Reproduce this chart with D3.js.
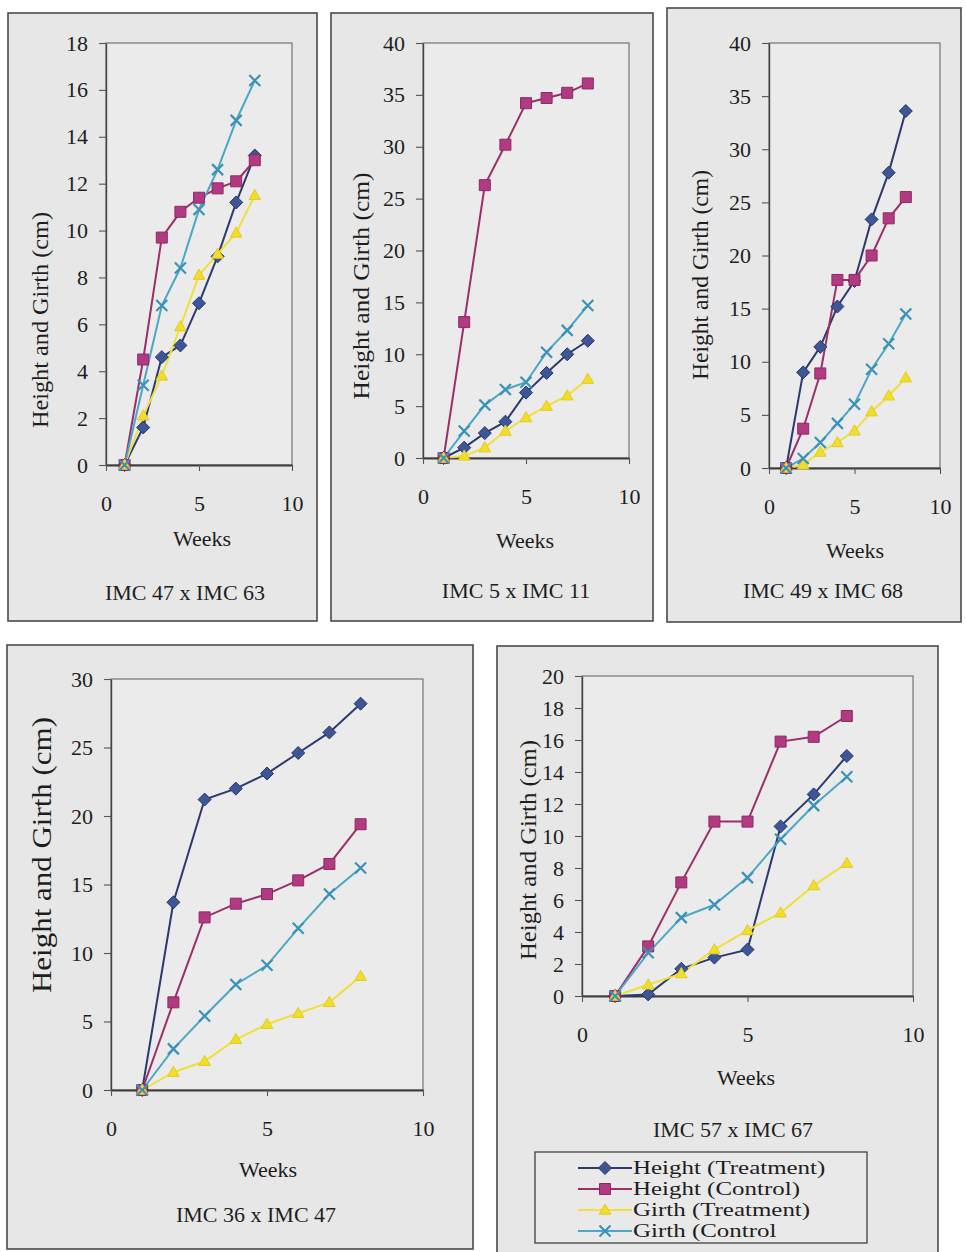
<!DOCTYPE html>
<html>
<head>
<meta charset="utf-8">
<script src="https://cdn.jsdelivr.net/npm/d3@7"></script>
<style>
  html, body { margin: 0; padding: 0; background: #ffffff; }
  svg { display: block; }
  text { font-family: "Liberation Serif", "Times New Roman", serif; fill: #1e1e1e; }
</style>
</head>
<body>
<svg id="chart" width="966" height="1252"></svg>
<script>
// ---- data: weekly height and girth (cm) for five crosses ----
const weeks = [1, 2, 3, 4, 5, 6, 7, 8];
const seriesLabels = ["Height (Treatment)", "Height (Control)", "Girth (Treatment)", "Girth (Control"];
const crossTitles = ["IMC 47 x IMC 63", "IMC 5 x IMC 11", "IMC 49 x IMC 68", "IMC 36 x IMC 47", "IMC 57 x IMC 67"];
const yMaxes = [18, 40, 40, 30, 20];
const ySteps = [2, 5, 5, 5, 2];
const xTickValues = [0, 5, 10];

const heightTreat47x63 = [0, 1.6, 4.6, 5.1, 6.9, 8.9, 11.2, 13.2];
const heightCtrl47x63  = [0, 4.5, 9.7, 10.8, 11.4, 11.8, 12.1, 13.0];
const girthTreat47x63  = [0, 2.1, 3.8, 5.9, 8.1, 9.0, 9.9, 11.5];
const girthCtrl47x63   = [0, 3.4, 6.8, 8.4, 10.9, 12.6, 14.7, 16.4];

const heightTreat5x11 = [0, 1.0, 2.4, 3.5, 6.3, 8.2, 10.0, 11.3];
const heightCtrl5x11  = [0, 13.1, 26.3, 30.2, 34.2, 34.7, 35.2, 36.1];
const girthTreat5x11  = [0, 0.2, 1.0, 2.6, 3.9, 5.0, 6.0, 7.6];
const girthCtrl5x11   = [0, 2.6, 5.1, 6.6, 7.3, 10.2, 12.3, 14.7];

const heightTreat49x68 = [0, 9.0, 11.4, 15.2, 17.6, 23.4, 27.8, 33.6];
const heightCtrl49x68  = [0, 3.7, 8.9, 17.7, 17.7, 20.0, 23.5, 25.5];
const girthTreat49x68  = [0, 0.3, 1.5, 2.4, 3.5, 5.3, 6.8, 8.5];
const girthCtrl49x68   = [0, 0.9, 2.4, 4.2, 6.0, 9.3, 11.7, 14.5];

const heightTreat36x47 = [0, 13.7, 21.2, 22.0, 23.1, 24.6, 26.1, 28.2];
const heightCtrl36x47  = [0, 6.4, 12.6, 13.6, 14.3, 15.3, 16.5, 19.4];
const girthTreat36x47  = [0, 1.3, 2.1, 3.7, 4.8, 5.6, 6.4, 8.3];
const girthCtrl36x47   = [0, 3.0, 5.4, 7.7, 9.1, 11.8, 14.3, 16.2];

const heightTreat57x67 = [0, 0.1, 1.7, 2.4, 2.9, 10.6, 12.6, 15.0];
const heightCtrl57x67  = [0, 3.1, 7.1, 10.9, 10.9, 15.9, 16.2, 17.5];
const girthTreat57x67  = [0, 0.7, 1.4, 2.9, 4.1, 5.2, 6.9, 8.3];
const girthCtrl57x67   = [0, 2.7, 4.9, 5.7, 7.4, 9.8, 11.9, 13.7];

const panelSeries = [
  [heightTreat47x63, heightCtrl47x63, girthTreat47x63, girthCtrl47x63],
  [heightTreat5x11, heightCtrl5x11, girthTreat5x11, girthCtrl5x11],
  [heightTreat49x68, heightCtrl49x68, girthTreat49x68, girthCtrl49x68],
  [heightTreat36x47, heightCtrl36x47, girthTreat36x47, girthCtrl36x47],
  [heightTreat57x67, heightCtrl57x67, girthTreat57x67, girthCtrl57x67]
];

// ---- layout of each framed chart ----
const layouts = [
  { box: [8, 13, 317, 621],   plot: [106, 43, 292, 465],  yTitle: [40, 320, 216, 24],  weeks: [202, 546],  title: [185, 600] },
  { box: [331, 13, 653, 621], plot: [423, 43, 629, 458],  yTitle: [361, 286, 227, 24], weeks: [525, 548],  title: [516, 598] },
  { box: [667, 8, 961, 622],  plot: [769, 43, 940, 468],  yTitle: [700, 275, 210, 24], weeks: [855, 558],  title: [823, 598] },
  { box: [7, 645, 473, 1249], plot: [111, 679, 423, 1090], yTitle: [42, 855, 276, 27], weeks: [268, 1177], title: [256, 1222] },
  { box: [497, 646, 938, 1262], plot: [582, 676, 913, 996], yTitle: [528, 850, 220, 24], weeks: [746, 1085], title: [733, 1137] }
];

// ---- series styling ----
const lineColors   = ["#2c3a6e", "#9a2f6b", "#f0e03c", "#4ea6c6"];
const markerFills  = ["#3d5796", "#b13a82", "#f2dc2c", "none"];
const markerStroke = ["#283464", "#8e2a62", "#e2cc20", "#3a93b6"];

const markerPaths = [
  "M0,-6.5L6.5,0L0,6.5L-6.5,0Z",          // diamond
  "M-5.5,-5.5H5.5V5.5H-5.5Z",               // square
  "M0,-6L5.8,4.2H-5.8Z",                    // triangle
  "M-5.5,-5.5L5.5,5.5M-5.5,5.5L5.5,-5.5"    // x
];

const svg = d3.select("#chart");
svg.append("rect").attr("width", 966).attr("height", 1252).attr("fill", "#ffffff");

panelSeries.forEach((series, i) => {
  const L = layouts[i];
  const [bx0, by0, bx1, by1] = L.box;
  const [pl, pt, pr, pb] = L.plot;
  const g = svg.append("g");

  // framed chart area
  g.append("rect")
    .attr("x", bx0).attr("y", by0)
    .attr("width", bx1 - bx0).attr("height", by1 - by0)
    .attr("fill", "#e7e7e7").attr("stroke", "#4a4a4a").attr("stroke-width", 1.6);

  // plot area
  g.append("rect")
    .attr("x", pl).attr("y", pt)
    .attr("width", pr - pl).attr("height", pb - pt)
    .attr("fill", "#ebebeb").attr("stroke", "#6a6a6a").attr("stroke-width", 1.1);

  const x = d3.scaleLinear().domain([0, 10]).range([pl, pr]);
  const y = d3.scaleLinear().domain([0, yMaxes[i]]).range([pb, pt]);

  // axes
  const yAxis = d3.axisLeft(y)
    .tickValues(d3.range(0, yMaxes[i] + ySteps[i] / 2, ySteps[i]))
    .tickSize(7).tickSizeOuter(0).tickPadding(11);
  const yg = g.append("g").attr("transform", `translate(${pl},0)`).call(yAxis);

  const xAxis = d3.axisBottom(x)
    .tickValues(xTickValues)
    .tickSize(6).tickSizeOuter(0).tickPadding(24);
  const xg = g.append("g").attr("transform", `translate(0,${pb})`).call(xAxis);

  [yg, xg].forEach(ax => {
    ax.select(".domain").attr("stroke", "#444").attr("stroke-width", 1.4);
    ax.selectAll(".tick line").attr("stroke", "#555").attr("stroke-width", 1.1);
    ax.selectAll(".tick text")
      .style("font-family", '"Liberation Serif", "Times New Roman", serif')
      .style("font-size", "22px").attr("fill", "#1e1e1e");
  });
  xg.select(".domain").attr("stroke-width", 2.2).attr("stroke", "#3e3e3e");

  // axis titles
  g.append("text")
    .attr("transform", `translate(${L.yTitle[0]},${L.yTitle[1]}) rotate(-90)`)
    .attr("text-anchor", "middle").attr("dy", "0.35em")
    .attr("textLength", L.yTitle[2]).attr("lengthAdjust", "spacingAndGlyphs")
    .style("font-size", L.yTitle[3] + "px")
    .text("Height and Girth (cm)");

  g.append("text")
    .attr("x", L.weeks[0]).attr("y", L.weeks[1])
    .attr("text-anchor", "middle").style("font-size", "22px")
    .text("Weeks");

  g.append("text")
    .attr("x", L.title[0]).attr("y", L.title[1])
    .attr("text-anchor", "middle").style("font-size", "22px")
    .text(crossTitles[i]);

  // series lines and markers
  const line = d3.line().x((d, k) => x(weeks[k])).y(d => y(d));
  series.forEach((vals, s) => {
    g.append("path")
      .datum(vals)
      .attr("d", line)
      .attr("fill", "none")
      .attr("stroke", lineColors[s])
      .attr("stroke-width", 2);
  });
  series.forEach((vals, s) => {
    g.selectAll(null)
      .data(vals)
      .join("path")
      .attr("transform", (d, k) => `translate(${x(weeks[k])},${y(d)})`)
      .attr("d", markerPaths[s])
      .attr("fill", markerFills[s])
      .attr("stroke", markerStroke[s])
      .attr("stroke-width", s === 3 ? 2.2 : 1);
  });
});

// ---- legend ----
const legendBox = [535, 1152, 867, 1243];
const defs = svg.append("defs");
defs.append("clipPath").attr("id", "legend-clip")
  .append("rect")
  .attr("x", legendBox[0]).attr("y", legendBox[1])
  .attr("width", legendBox[2] - legendBox[0]).attr("height", legendBox[3] - legendBox[1]);

const lg = svg.append("g");
lg.append("rect")
  .attr("x", legendBox[0]).attr("y", legendBox[1])
  .attr("width", legendBox[2] - legendBox[0]).attr("height", legendBox[3] - legendBox[1])
  .attr("fill", "#e9e9e9").attr("stroke", "#333").attr("stroke-width", 1.2);

const lgItems = lg.append("g").attr("clip-path", "url(#legend-clip)");
const rowY = d3.scaleLinear().domain([0, 3]).range([1168, 1231]);
seriesLabels.forEach((label, s) => {
  const cy = rowY(s);
  lgItems.append("line")
    .attr("x1", 578).attr("x2", 632).attr("y1", cy).attr("y2", cy)
    .attr("stroke", lineColors[s]).attr("stroke-width", 2);
  lgItems.append("path")
    .attr("transform", `translate(605,${cy})`)
    .attr("d", markerPaths[s])
    .attr("fill", markerFills[s])
    .attr("stroke", markerStroke[s])
    .attr("stroke-width", s === 3 ? 2.2 : 1);
  // rows sit tightly, so the lettering is compressed vertically
  lgItems.append("text")
    .attr("transform", `translate(633,${cy}) scale(1.04,0.8)`)
    .attr("dy", "0.33em")
    .style("font-size", "24px")
    .text(label);
});
</script>
</body>
</html>
